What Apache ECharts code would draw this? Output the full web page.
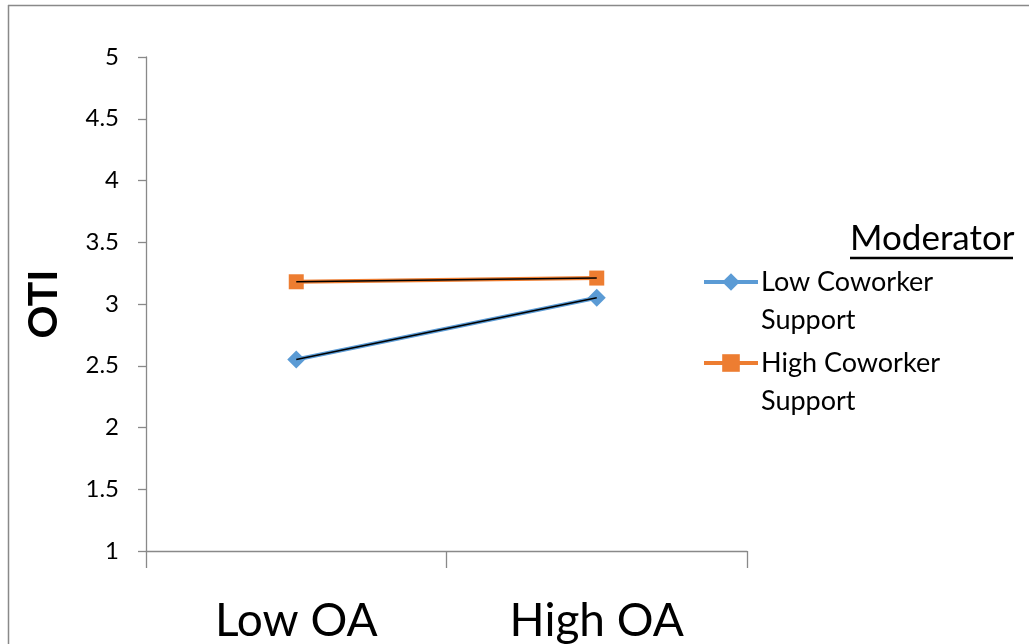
<!DOCTYPE html>
<html>
<head>
<meta charset="utf-8">
<script src="https://cdn.jsdelivr.net/npm/echarts@6/dist/echarts.min.js"></script>
<style>
html,body{margin:0;padding:0;background:#fff;}
#chart{width:1029px;height:644px;}
</style>
</head>
<body>
<div id="chart"></div>
<script>
const categories = ['Low OA', 'High OA'];
const lowSupport = [2.55, 3.05];
const highSupport = [3.18, 3.21];
const seriesNames = ['Low Coworker Support', 'High Coworker Support'];
const legendTitle = 'Moderator';
const yAxisName = 'OTI';
const yMin = 1, yMax = 5, yStep = 0.5;

const FONT = 'Lato';
const chart = echarts.init(document.getElementById('chart'), null, {renderer: 'canvas'});

function legendFor(name, top) {
  return {
    data: [name],
    left: 702,
    top: top,
    orient: 'vertical',
    itemWidth: 54,
    itemHeight: 22,
    itemGap: 0,
    padding: 0,
    selectedMode: false,
    lineStyle: {width: 4},
    formatter: n => '\n' + n.replace(' Support', '\nSupport'),
    textStyle: {
      fontFamily: FONT, fontSize: 27, color: '#000', lineHeight: 38,
      padding: [0, 0, 0, -2]
    }
  };
}

chart.setOption({
  animation: false,
  backgroundColor: '#fff',
  grid: {left: 146, right: 282, top: 57, bottom: 93, containLabel: false},
  legend: [legendFor(seriesNames[0], 225), legendFor(seriesNames[1], 306)],
  xAxis: {
    type: 'category',
    data: categories,
    boundaryGap: true,
    axisLine: {lineStyle: {color: '#898989', width: 1.3}},
    axisTick: {show: true, length: 17, lineStyle: {color: '#898989', width: 1.3}},
    axisLabel: {fontFamily: FONT, fontSize: 46, color: '#000', margin: 47}
  },
  yAxis: {
    type: 'value',
    min: yMin, max: yMax, interval: yStep,
    name: yAxisName,
    nameLocation: 'middle',
    nameGap: 82,
    nameRotate: 90,
    nameTextStyle: {fontFamily: FONT, fontSize: 41, fontWeight: 'bold', color: '#000'},
    axisLine: {show: true, lineStyle: {color: '#898989', width: 1.3}},
    axisTick: {show: true, length: 8, lineStyle: {color: '#898989', width: 1.3}},
    splitLine: {show: false},
    axisLabel: {fontFamily: FONT, fontSize: 24, color: '#000', margin: 27}
  },
  series: [
    {
      name: seriesNames[0], type: 'line', data: lowSupport,
      symbol: 'diamond', symbolSize: 18,
      itemStyle: {color: '#5B9BD5'},
      lineStyle: {color: '#5B9BD5', width: 4}
    },
    {
      name: seriesNames[1], type: 'line', data: highSupport,
      symbol: 'rect', symbolSize: 15,
      itemStyle: {color: '#ED7D31'},
      lineStyle: {color: '#ED7D31', width: 4}
    },
    {
      name: 'trend1', type: 'line', data: lowSupport, symbol: 'none',
      lineStyle: {color: '#000', width: 1.5}, z: 5, silent: true
    },
    {
      name: 'trend2', type: 'line', data: highSupport, symbol: 'none',
      lineStyle: {color: '#000', width: 1.5}, z: 5, silent: true
    }
  ],
  graphic: [
    {type: 'line', shape: {x1: 8, y1: 5.5, x2: 1029, y2: 5.5}, style: {stroke: '#898989', lineWidth: 1.5}},
    {type: 'line', shape: {x1: 8.5, y1: 5, x2: 8.5, y2: 644}, style: {stroke: '#898989', lineWidth: 1.5}},
    {type: 'text', left: 850, top: 221, style: {text: legendTitle, fontFamily: FONT, fontSize: 35, fill: '#000'}},
    {type: 'line', shape: {x1: 850, y1: 258, x2: 1013, y2: 258}, style: {stroke: '#000', lineWidth: 2.5}}
  ]
});
</script>
</body>
</html>
